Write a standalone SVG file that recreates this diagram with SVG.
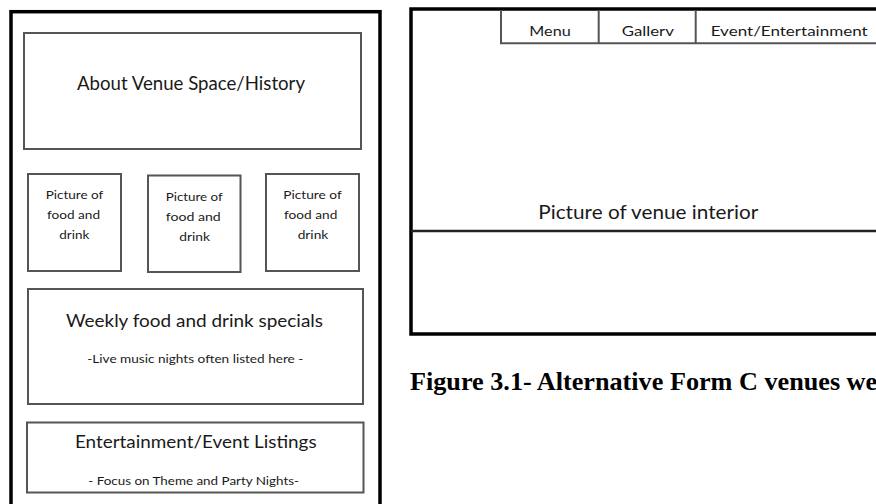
<svg xmlns="http://www.w3.org/2000/svg" width="876" height="504" viewBox="0 0 876 504">
  <style>
    .frame { fill: none; stroke: #000; stroke-width: 3.5; }
    .box { fill: #fff; stroke: #555; stroke-width: 2; }
    .sep { fill: none; stroke: #222; stroke-width: 2.5; }
    .tab { fill: none; stroke: #555; stroke-width: 2; }
    text { font-family: Lato, "Open Sans", "Liberation Sans", sans-serif; fill: #1a1a1a; text-anchor: middle; }
    .big { font-size: 18.5px; }
    .mid { font-size: 17px; }
    .small { font-size: 12px; }
    .note { font-size: 11.5px; }
    .tabt { font-size: 14px; }
    .cap { font-family: "Liberation Serif", "Times New Roman", serif; font-weight: bold; font-size: 26.2px; fill: #000; text-anchor: start; }
  </style>
  <rect x="0" y="0" width="876" height="504" fill="#fff"/>

  <g id="left-page">
    <rect class="frame" x="11" y="11.7" width="369" height="520"/>
  </g>

  <g id="about">
    <rect class="box" x="24" y="33" width="337" height="116"/>
    <text class="big" x="191" y="90" textLength="228" lengthAdjust="spacingAndGlyphs">About Venue Space/History</text>
  </g>

  <g id="pic1">
    <rect class="box" x="28" y="174" width="93" height="97"/>
    <text class="small" x="74.5" y="199.3" textLength="57.6" lengthAdjust="spacingAndGlyphs">Picture of</text>
    <text class="small" x="73.5" y="219" textLength="53" lengthAdjust="spacingAndGlyphs">food and</text>
    <text class="small" x="74.3" y="239" textLength="30" lengthAdjust="spacingAndGlyphs">drink</text>
  </g>

  <g id="pic2">
    <rect class="box" x="148" y="175.5" width="92.5" height="96.5"/>
    <text class="small" x="194.2" y="200.7" textLength="57" lengthAdjust="spacingAndGlyphs">Picture of</text>
    <text class="small" x="193.2" y="220.7" textLength="55" lengthAdjust="spacingAndGlyphs">food and</text>
    <text class="small" x="194.7" y="240.7" textLength="30.7" lengthAdjust="spacingAndGlyphs">drink</text>
  </g>

  <g id="pic3">
    <rect class="box" x="266" y="174" width="93" height="97"/>
    <text class="small" x="312.5" y="199" textLength="58.4" lengthAdjust="spacingAndGlyphs">Picture of</text>
    <text class="small" x="310.7" y="218.5" textLength="53.3" lengthAdjust="spacingAndGlyphs">food and</text>
    <text class="small" x="313" y="238.7" textLength="30.6" lengthAdjust="spacingAndGlyphs">drink</text>
  </g>

  <g id="specials">
    <rect class="box" x="28" y="289" width="335" height="115"/>
    <text class="mid" x="194.5" y="327.3" textLength="257" lengthAdjust="spacingAndGlyphs">Weekly food and drink specials</text>
    <text class="note" x="195.3" y="363.3" textLength="216" lengthAdjust="spacingAndGlyphs">-Live  music nights often listed here -</text>
  </g>

  <g id="listings">
    <rect class="box" x="27" y="422.5" width="336.5" height="70"/>
    <text class="mid" x="195.8" y="448.3" textLength="241.7" lengthAdjust="spacingAndGlyphs">Entertainment/Event Listings</text>
    <text class="note" x="193.7" y="485" textLength="210.7" lengthAdjust="spacingAndGlyphs">- Focus on Theme and Party Nights-</text>
  </g>

  <g id="right-page">
    <rect class="frame" x="411" y="9" width="500" height="325"/>
    <line class="sep" x1="411" y1="231" x2="880" y2="231"/>
    <text class="big" x="648.3" y="219.3" textLength="220" lengthAdjust="spacingAndGlyphs">Picture of venue interior</text>
  </g>

  <g id="nav">
    <polyline class="tab" points="501,10 501,43.3 880,43.3"/>
    <line class="tab" x1="598.7" y1="10" x2="598.7" y2="43.3"/>
    <line class="tab" x1="695.7" y1="10" x2="695.7" y2="43.3"/>
    <text class="tabt" x="550" y="36" textLength="41.4" lengthAdjust="spacingAndGlyphs">Menu</text>
    <text class="tabt" x="647.8" y="36" textLength="52.3" lengthAdjust="spacingAndGlyphs">Gallerv</text>
    <text class="tabt" x="789.2" y="36" textLength="157" lengthAdjust="spacingAndGlyphs">Event/Entertainment</text>
  </g>

  <g id="caption">
    <text class="cap" x="410" y="390">Figure 3.1- Alternative Form C venues we</text>
  </g>
</svg>
